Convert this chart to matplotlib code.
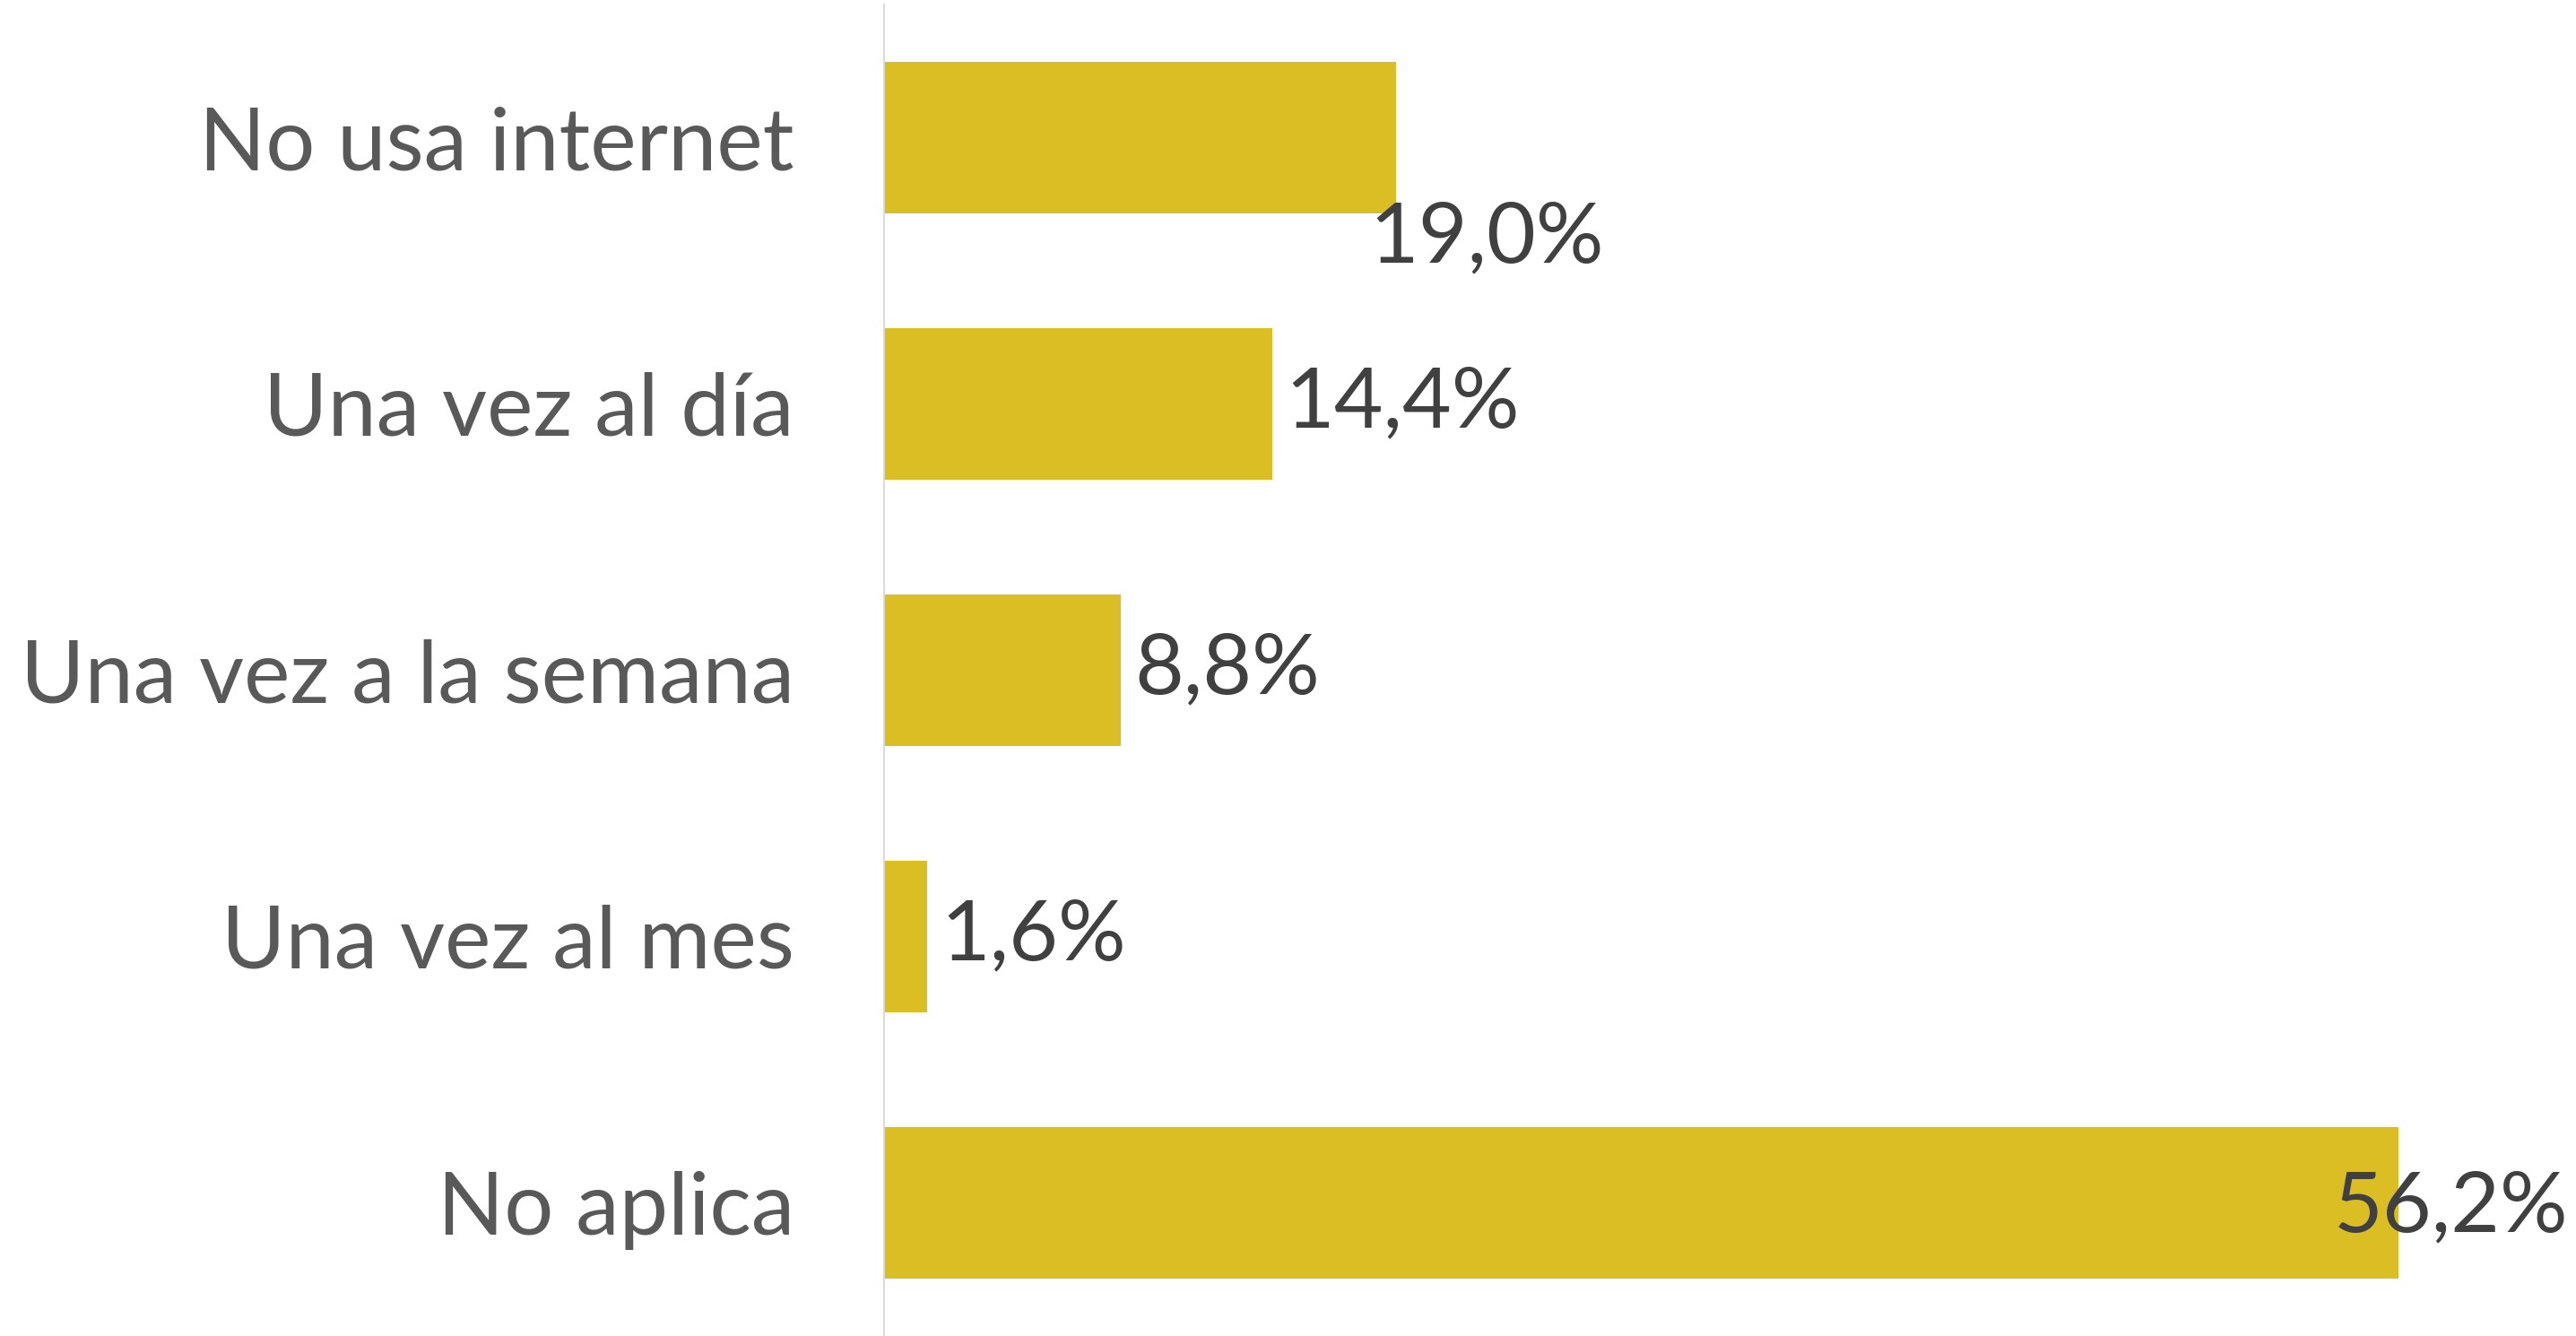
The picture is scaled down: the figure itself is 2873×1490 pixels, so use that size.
import matplotlib
matplotlib.use("Agg")
import matplotlib.pyplot as plt

categories = ["No usa internet", "Una vez al día", "Una vez a la semana", "Una vez al mes", "No aplica"]
values = [19.0, 14.4, 8.8, 1.6, 56.2]
value_labels = ["19,0%", "14,4%", "8,8%", "1,6%", "56,2%"]

BAR_COLOR = "#DBBE23"
CAT_COLOR = "#595959"
VAL_COLOR = "#404040"
FONT = ["Lato", "DejaVu Sans"]

fig = plt.figure(figsize=(28.73, 14.90), dpi=100)
ax = fig.add_axes([986 / 2873, 0.0, 1 - 986 / 2873, 1485 / 1490])

y = list(range(len(categories)))
ax.barh(y, values, height=0.568, color=BAR_COLOR)
ax.set_xlim(0, 62.8)
ax.set_ylim(len(categories) - 0.5, -0.5)

ax.set_yticks(y)
ax.set_yticklabels(categories, fontsize=70, color=CAT_COLOR, family=FONT)
ax.tick_params(axis="y", length=0, pad=72)
ax.set_xticks([])

for s in ["top", "right", "bottom"]:
    ax.spines[s].set_visible(False)
ax.spines["left"].set_color("#d9d9d9")
ax.spines["left"].set_linewidth(1.4)

# label offsets as placed in the original
for i, (v, lab) in enumerate(zip(values, value_labels)):
    dx, dy = 0.5, 0.0
    if i == 0:
        dx, dy = -1.0, 0.38
    elif i == 4:
        dx, dy = -2.4, 0.02
    ax.text(v + dx, i + dy, lab, ha="left", va="center", fontsize=68,
            color=VAL_COLOR, family=FONT)

fig.savefig("out.png", dpi=100)
